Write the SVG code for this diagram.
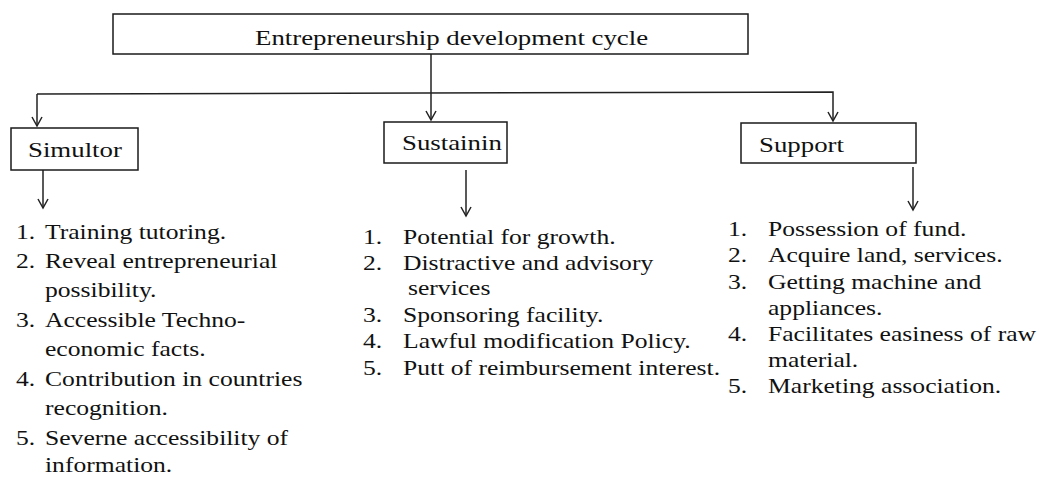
<svg xmlns="http://www.w3.org/2000/svg" width="1040" height="478" viewBox="0 0 1040 478">
  <style>
    .box { fill: #ffffff; stroke: #1a1a1a; stroke-width: 1.5; }
    .txt { font-family: "Liberation Serif", "Times New Roman", serif; fill: #111111; }
    .lbl { font-size: 22px; }
    .item { font-size: 21px; }
    .conn { fill: none; stroke: #222222; stroke-width: 1.5; }
  </style>
  <defs>
    <marker id="arr" markerWidth="12" markerHeight="12" refX="6" refY="10" orient="0" markerUnits="userSpaceOnUse" viewBox="0 0 12 12">
      <path d="M1,1 L6,10 L11,1" fill="none" stroke="#222222" stroke-width="1.5"/>
    </marker>
  </defs>
  <rect width="1040" height="478" fill="#ffffff"/>

  <g id="connectors">
    <line class="conn" x1="431" y1="54" x2="431" y2="120" marker-end="url(#arr)"/>
    <path class="conn" d="M37,94 L833,92 L833,121" marker-end="url(#arr)"/>
    <line class="conn" x1="37" y1="94" x2="37" y2="126" marker-end="url(#arr)"/>
    <line class="conn" x1="43" y1="170" x2="43" y2="208" marker-end="url(#arr)"/>
    <line class="conn" x1="466" y1="170" x2="466" y2="216" marker-end="url(#arr)"/>
    <line class="conn" x1="913" y1="167" x2="913" y2="210" marker-end="url(#arr)"/>
  </g>

  <g id="node-root">
    <rect class="box" x="113" y="14" width="635" height="40"/>
    <text class="txt lbl" transform="translate(255,45) scale(1.22,1)">Entrepreneurship development cycle</text>
  </g>

  <g id="node-simultor">
    <rect class="box" x="11" y="128" width="127" height="42"/>
    <text class="txt lbl" transform="translate(28,157) scale(1.22,1)">Simultor</text>
  </g>

  <g id="node-sustainin">
    <rect class="box" x="384" y="122" width="123" height="41"/>
    <text class="txt lbl" transform="translate(402,150) scale(1.22,1)">Sustainin</text>
  </g>

  <g id="node-support">
    <rect class="box" x="741" y="123" width="175" height="40"/>
    <text class="txt lbl" transform="translate(759,152) scale(1.22,1)">Support</text>
  </g>

  <g id="list-simultor" class="txt item" transform="translate(45,0) scale(1.22,1)">
    <text y="239"><tspan x="-23.8">1.</tspan><tspan x="0">Training tutoring.</tspan></text>
    <text y="268"><tspan x="-23.8">2.</tspan><tspan x="0">Reveal entrepreneurial</tspan></text>
    <text x="0" y="297">possibility.</text>
    <text y="327"><tspan x="-23.8">3.</tspan><tspan x="0">Accessible Techno-</tspan></text>
    <text x="0" y="356">economic facts.</text>
    <text y="386"><tspan x="-23.8">4.</tspan><tspan x="0">Contribution in countries</tspan></text>
    <text x="0" y="415">recognition.</text>
    <text y="445"><tspan x="-23.8">5.</tspan><tspan x="0">Severne accessibility of</tspan></text>
    <text x="0" y="472">information.</text>
  </g>

  <g id="list-sustainin" class="txt item" transform="translate(403,0) scale(1.22,1)">
    <text y="244"><tspan x="-32.8">1.</tspan><tspan x="0">Potential for growth.</tspan></text>
    <text y="270"><tspan x="-32.8">2.</tspan><tspan x="0">Distractive and advisory</tspan></text>
    <text x="4.1" y="295">services</text>
    <text y="322"><tspan x="-32.8">3.</tspan><tspan x="0">Sponsoring facility.</tspan></text>
    <text y="348"><tspan x="-32.8">4.</tspan><tspan x="0">Lawful modification Policy.</tspan></text>
    <text y="375"><tspan x="-32.8">5.</tspan><tspan x="0">Putt of reimbursement interest.</tspan></text>
  </g>

  <g id="list-support" class="txt item" transform="translate(768,0) scale(1.22,1)">
    <text y="236"><tspan x="-32.8">1.</tspan><tspan x="0">Possession of fund.</tspan></text>
    <text y="262"><tspan x="-32.8">2.</tspan><tspan x="0">Acquire land, services.</tspan></text>
    <text y="289"><tspan x="-32.8">3.</tspan><tspan x="0">Getting machine and</tspan></text>
    <text x="0" y="315">appliances.</text>
    <text y="341"><tspan x="-32.8">4.</tspan><tspan x="0">Facilitates easiness of raw</tspan></text>
    <text x="0" y="367">material.</text>
    <text y="393"><tspan x="-32.8">5.</tspan><tspan x="0">Marketing association.</tspan></text>
  </g>
</svg>
